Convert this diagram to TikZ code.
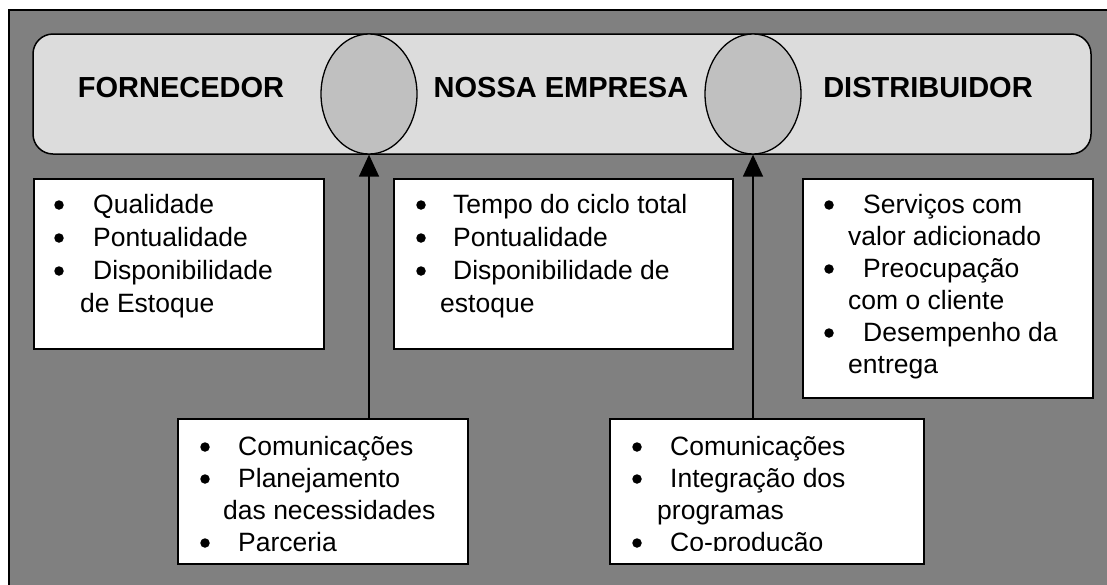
\documentclass[tikz,border=0pt]{standalone}
\usepackage{fontspec}
\setmainfont{Liberation Sans}
\usetikzlibrary{arrows.meta,shapes.geometric}
\definecolor{outergray}{HTML}{808080}
\definecolor{bannergray}{HTML}{DCDCDC}
\definecolor{ellgray}{HTML}{C0C0C0}
\newcommand\mybox[5]{\node[boxst, minimum width=#4pt, minimum height=#5pt, anchor=north west] (#1) at (#2,#3) {};}
\newcommand\tline[4]{\node[txt] (#1) at (#2,#3) {#4};}
\newcommand\bul[3]{\node[dot] (#1) at (#2,#3-8) {};}
\begin{document}
\begin{tikzpicture}[x=1pt,y=-1pt,
  frame/.style={draw=black, line width=1.5pt, fill=outergray},
  banner/.style={draw=black, line width=1.5pt, fill=bannergray, rounded corners=20pt},
  ell/.style={ellipse, draw=black, line width=1.3pt, fill=ellgray, minimum width=96pt, minimum height=120pt, inner sep=0pt},
  title/.style={anchor=base, inner sep=0pt, font=\fontsize{29}{34}\selectfont\bfseries},
  boxst/.style={rectangle, draw=black, line width=1.5pt, fill=white, inner sep=0pt},
  txt/.style={anchor=base west, inner sep=0pt, font=\fontsize{26.5}{32}\selectfont},
  dot/.style={circle, fill=black, inner sep=0pt, minimum size=9.5pt},
  link/.style={draw=black, line width=1.5pt, -{Triangle[width=20pt,length=22pt]}}]
\useasboundingbox (0,0) rectangle (1107,584);
\path[frame] (9,10) rectangle (1130,610);
\path[banner] (33,34) rectangle (1091,154);
\node[ell] (eL) at (369,94) {};
\node[ell] (eR) at (753,94) {};
\node[title] (t1) at (181,97) {FORNECEDOR};
\node[title] (t2) at (561,97) {NOSSA EMPRESA};
\node[title] (t3) at (928,97) {DISTRIBUIDOR};
% box 1
\mybox{b1}{33}{178}{290}{170}
\bul{b1a}{59}{213}\tline{b1x}{93}{213}{Qualidade}
\bul{b1b}{59}{246}\tline{b1y}{93}{246}{Pontualidade}
\bul{b1c}{59}{279}\tline{b1z}{93}{279}{Disponibilidade}
\tline{b1w}{80}{312}{de Estoque}
% box 2
\mybox{b2}{393}{178}{339}{170}
\bul{b2a}{421}{213}\tline{b2x}{453}{213}{Tempo do ciclo total}
\bul{b2b}{421}{246}\tline{b2y}{453}{246}{Pontualidade}
\bul{b2c}{421}{279}\tline{b2z}{453}{279}{Disponibilidade de}
\tline{b2w}{440}{312}{estoque}
% box 3
\mybox{b3}{802}{178}{290}{219}
\bul{b3a}{829}{213}\tline{b3x}{863}{213}{Serviços com}
\tline{b3y}{848}{245}{valor adicionado}
\bul{b3b}{829}{277}\tline{b3z}{863}{277}{Preocupação}
\tline{b3w}{848}{309}{com o cliente}
\bul{b3c}{829}{341}\tline{b3v}{863}{341}{Desempenho da}
\tline{b3u}{848}{373}{entrega}
% box 4
\mybox{b4}{177}{418}{290}{145}
\bul{b4a}{205}{455}\tline{b4x}{238}{455}{Comunicações}
\bul{b4b}{205}{487}\tline{b4y}{238}{487}{Planejamento}
\tline{b4z}{223}{519}{das necessidades}
\bul{b4c}{205}{551}\tline{b4w}{238}{551}{Parceria}
% box 5
\mybox{b5}{609}{418}{314}{145}
\bul{b5a}{637}{455}\tline{b5x}{670}{455}{Comunicações}
\bul{b5b}{637}{487}\tline{b5y}{670}{487}{Integração dos}
\tline{b5z}{657}{519}{programas}
\bul{b5c}{637}{551}
\begin{scope}
\clip (609,418) rectangle (923,550);
\tline{b5w}{670}{551}{Co-produção}
\end{scope}
% connectors
\draw[link] (b4.north -| eL.south) -- (eL.south);
\draw[link] (b5.north -| eR.south) -- (eR.south);
\end{tikzpicture}
\end{document}
